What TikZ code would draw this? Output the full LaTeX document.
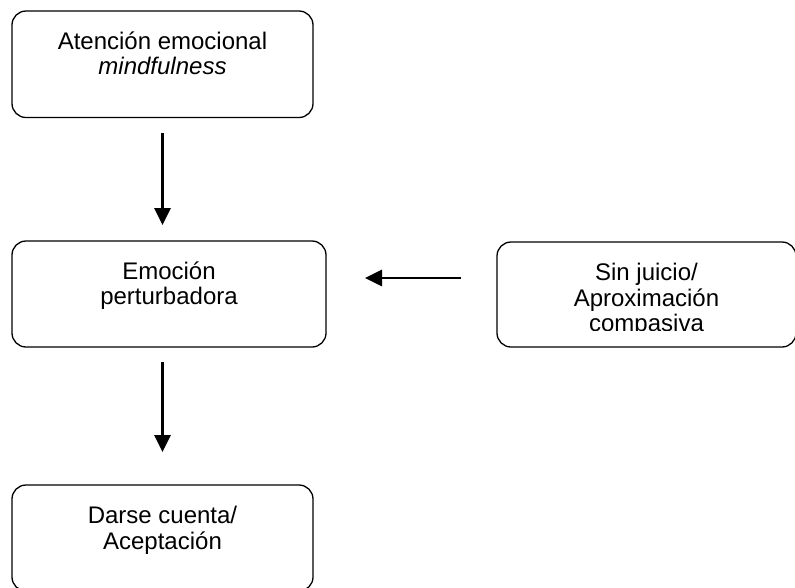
\documentclass[tikz,border=0pt]{standalone}
\usepackage{fontspec}
\setmainfont{Liberation Sans}
\usepackage{tikz}
\usetikzlibrary{arrows.meta, positioning, calc}

\newcommand{\txtcaja}[2]{\parbox[c][#1][t]{290pt}{\centering\fontsize{24}{25}\selectfont\vspace*{20.5pt}\strut #2}}

\begin{document}
\begin{tikzpicture}[x=1pt, y=-1pt,
    caja/.style={draw, line width=1.3pt, rounded corners=14pt, inner sep=0pt, outer sep=0pt},
    flecha/.style={-{Triangle[length=17pt, width=16pt]}, line width=2.8pt}]
    \useasboundingbox (0,0) rectangle (795,587);

    \node[caja, minimum width=301pt, minimum height=106.5pt] (aten) at (162.5, 64.25) {\txtcaja{106.5pt}{Atención emocional\\\textit{mindfulness}}};
    \node[caja, minimum width=314pt, minimum height=106pt] (emo) at (169, 294) {\txtcaja{106pt}{Emoción\\perturbadora}};
    \node[caja, minimum width=299pt, minimum height=105pt] (sin) at (646.5, 294.5) {};
    \begin{scope}
        \clip (sin.north west) rectangle ([yshift=16.5pt]sin.south east);
        \node[inner sep=0pt] (sintxt) at (sin) {\txtcaja{105pt}{Sin juicio/\\Aproximación\\compasiva}};
    \end{scope}
    \node[caja, minimum width=301pt, minimum height=106pt] (dar) at (162.5, 538) {\txtcaja{106pt}{Darse cuenta/\\Aceptación}};

    \draw[flecha, shorten <=15.5pt, shorten >=16pt] (aten.south) -- (aten.south |- emo.north);
    \draw[flecha, shorten <=15pt, shorten >=33pt] (aten.south |- emo.south) -- (aten.south |- dar.north);
    \draw[flecha, shorten <=36pt, shorten >=39pt] ([yshift=16.5pt]sin.west) -- ([yshift=16.5pt]sin.west -| emo.east);
\end{tikzpicture}
\end{document}
